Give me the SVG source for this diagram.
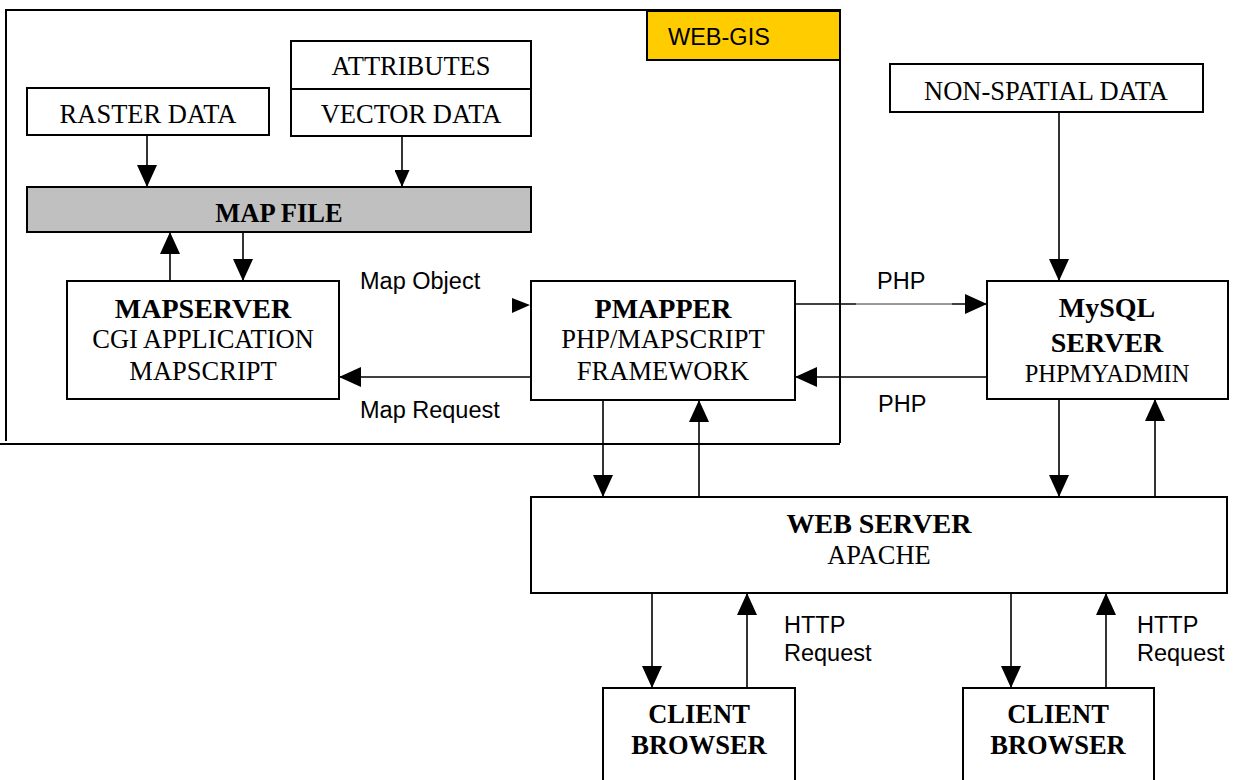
<svg xmlns="http://www.w3.org/2000/svg" width="1234" height="780" viewBox="0 0 1234 780">
  <style>
    .box { fill: #ffffff; stroke: #000000; stroke-width: 2; }
    .grey { fill: #c0c0c0; stroke: #000000; stroke-width: 2; }
    .tag { fill: #ffcc00; stroke: #000000; stroke-width: 2; }
    .frame { fill: none; stroke: #000000; stroke-width: 2; }
    .conn line { stroke: #000000; stroke-width: 1.6; fill: none; }
    .serif { font-family: "Liberation Serif", "Times New Roman", serif; font-size: 26.5px; fill: #000000; }
    .b { font-weight: bold; }
    .h { font-size: 28px; }
    .sans { font-family: "Liberation Sans", Arial, sans-serif; font-size: 23.5px; fill: #000000; }
    .m { text-anchor: middle; }
  </style>
  <defs>
    <marker id="ah" viewBox="0 0 22 20" refX="22" refY="10" markerWidth="22" markerHeight="20" markerUnits="userSpaceOnUse" orient="auto">
      <path d="M0,0 L22,10 L0,20 z" fill="#000000"/>
    </marker>
    <marker id="ahs" viewBox="0 0 17 15" refX="17" refY="7.5" markerWidth="17" markerHeight="15" markerUnits="userSpaceOnUse" orient="auto">
      <path d="M0,0 L17,7.5 L0,15 z" fill="#000000"/>
    </marker>
  </defs>
  <rect width="1234" height="780" fill="#ffffff"/>

  <g id="webgis-frame">
    <path class="frame" d="M6,441 V10 H840 V443"/>
    <line x1="0" y1="444" x2="840" y2="444" stroke="#000000" stroke-width="2"/>
    <rect class="tag" x="647" y="11" width="193" height="49"/>
    <text class="sans" x="668" y="45">WEB-GIS</text>
  </g>

  <g id="raster-data">
    <rect class="box" x="27" y="88" width="242" height="47"/>
    <text class="serif m" x="148" y="123">RASTER DATA</text>
  </g>

  <g id="attributes">
    <rect class="box" x="291" y="41" width="240" height="48"/>
    <text class="serif m" x="411" y="75">ATTRIBUTES</text>
  </g>

  <g id="vector-data">
    <rect class="box" x="291" y="89" width="240" height="47"/>
    <text class="serif m" x="411" y="123">VECTOR DATA</text>
  </g>

  <g id="map-file">
    <rect class="grey" x="27" y="187" width="504" height="45"/>
    <text class="serif b m" x="279" y="222">MAP FILE</text>
  </g>

  <g id="mapserver">
    <rect class="box" x="67" y="281" width="272" height="118"/>
    <text class="serif b h m" x="203" y="318">MAPSERVER</text>
    <text class="serif m" x="203" y="348">CGI APPLICATION</text>
    <text class="serif m" x="203" y="380">MAPSCRIPT</text>
  </g>

  <g id="pmapper">
    <rect class="box" x="531" y="281" width="264" height="119"/>
    <text class="serif b h m" x="663" y="318">PMAPPER</text>
    <text class="serif m" x="663" y="348">PHP/MAPSCRIPT</text>
    <text class="serif m" x="663" y="380">FRAMEWORK</text>
  </g>

  <g id="non-spatial-data">
    <rect class="box" x="890" y="64" width="313" height="48"/>
    <text class="serif m" x="1046" y="100">NON-SPATIAL DATA</text>
  </g>

  <g id="mysql-server">
    <rect class="box" x="987" y="281" width="241" height="118"/>
    <text class="serif b h m" x="1107" y="317">MySQL</text>
    <text class="serif b h m" x="1107" y="352">SERVER</text>
    <text class="serif m" x="1107" y="382" style="font-size:24.5px">PHPMYADMIN</text>
  </g>

  <g id="web-server">
    <rect class="box" x="531" y="497" width="696" height="96"/>
    <text class="serif b h m" x="879" y="533">WEB SERVER</text>
    <text class="serif m" x="879" y="564">APACHE</text>
  </g>

  <g id="client-browser-1">
    <rect class="box" x="603" y="688" width="192" height="120"/>
    <text class="serif b m" x="699" y="723">CLIENT</text>
    <text class="serif b m" x="699" y="754">BROWSER</text>
  </g>

  <g id="client-browser-2">
    <rect class="box" x="963" y="688" width="191" height="120"/>
    <text class="serif b m" x="1058" y="723">CLIENT</text>
    <text class="serif b m" x="1058" y="754">BROWSER</text>
  </g>

  <g id="connectors" class="conn">
    <line x1="147" y1="135" x2="147" y2="187" marker-end="url(#ah)"/>
    <line x1="402" y1="136" x2="402" y2="187" marker-end="url(#ahs)"/>
    <line x1="170" y1="281" x2="170" y2="232" marker-end="url(#ah)"/>
    <line x1="243" y1="232" x2="243" y2="281" marker-end="url(#ah)"/>
    <path d="M512,298 L530,305 L512,313 Z" fill="#000000"/>
    <line x1="531" y1="377" x2="339" y2="377" marker-end="url(#ah)"/>
    <line x1="795" y1="304" x2="856" y2="304"/>
    <line x1="856" y1="304" x2="952" y2="304" style="stroke-width:0.8"/>
    <line x1="952" y1="304" x2="987" y2="304" marker-end="url(#ah)"/>
    <line x1="987" y1="377" x2="795" y2="377" marker-end="url(#ah)"/>
    <line x1="1059" y1="112" x2="1059" y2="281" marker-end="url(#ah)"/>
    <line x1="603" y1="400" x2="603" y2="497" marker-end="url(#ah)"/>
    <line x1="699" y1="497" x2="699" y2="400" marker-end="url(#ah)"/>
    <line x1="1059" y1="399" x2="1059" y2="497" marker-end="url(#ah)"/>
    <line x1="1155" y1="497" x2="1155" y2="399" marker-end="url(#ah)"/>
    <line x1="652" y1="593" x2="652" y2="688" marker-end="url(#ah)"/>
    <line x1="747" y1="688" x2="747" y2="593" marker-end="url(#ah)"/>
    <line x1="1011" y1="593" x2="1011" y2="688" marker-end="url(#ah)"/>
    <line x1="1106" y1="688" x2="1106" y2="593" marker-end="url(#ah)"/>
  </g>

  <g id="connector-labels">
    <text class="sans" x="360" y="289">Map Object</text>
    <text class="sans" x="360" y="418">Map Request</text>
    <text class="sans" x="877" y="289">PHP</text>
    <text class="sans" x="878" y="412">PHP</text>
    <text class="sans" x="784" y="633">HTTP</text>
    <text class="sans" x="784" y="661">Request</text>
    <text class="sans" x="1137" y="633">HTTP</text>
    <text class="sans" x="1137" y="661">Request</text>
  </g>
</svg>
